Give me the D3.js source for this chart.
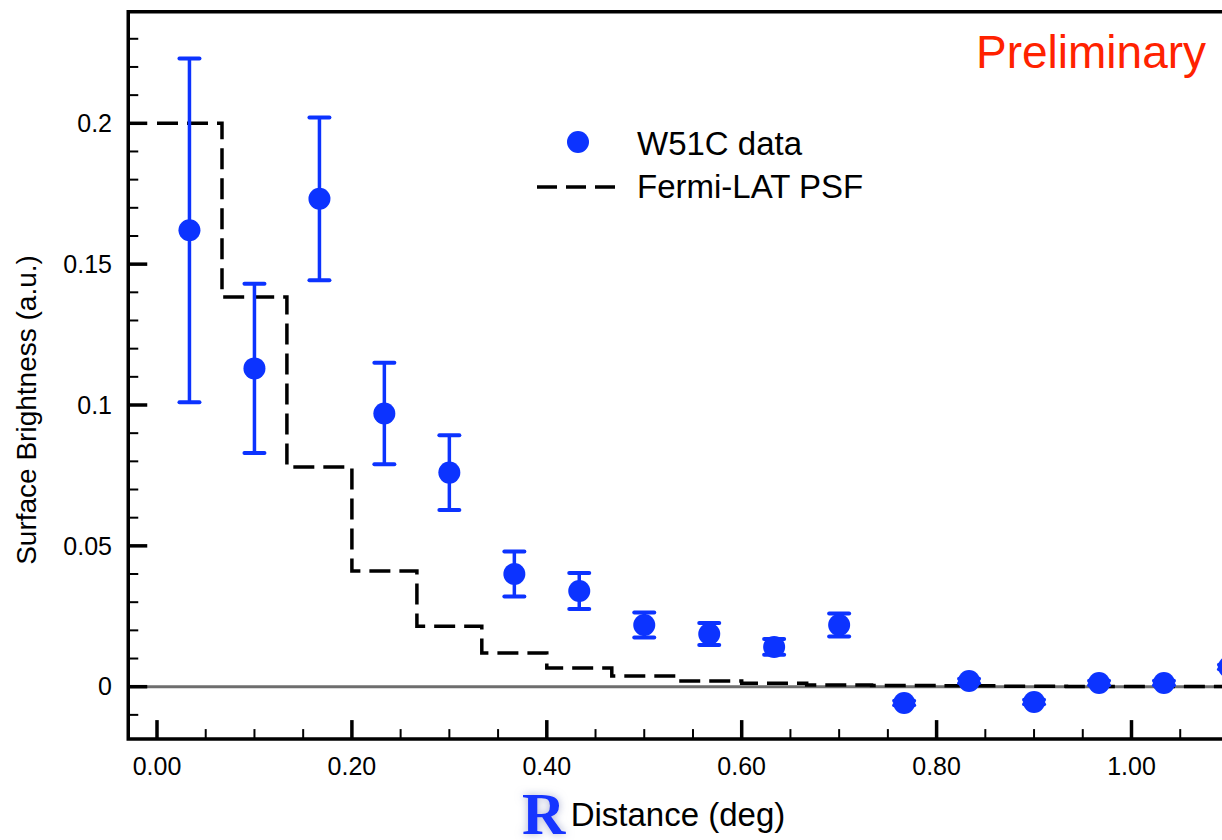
<!DOCTYPE html>
<html>
<head>
<meta charset="utf-8">
<script src="https://cdn.jsdelivr.net/npm/d3@7"></script>
<style>
  body { margin: 0; background: #fff; }
  svg { display: block; font-family: "Liberation Sans", Arial, Helvetica, sans-serif; }
</style>
</head>
<body>
<svg id="contenedor"></svg>
<script>
// centros de los bines radiales (deg)
let distancia = [0.0333, 0.1, 0.1667, 0.2333, 0.3, 0.3667, 0.4333, 0.5, 0.5667,
  0.6333, 0.7, 0.7667, 0.8333, 0.9, 0.9667, 1.0333, 1.1];
// brillo superficial W51C y su error
let brillo = [0.162, 0.113, 0.1732, 0.097, 0.076, 0.040, 0.034, 0.0219, 0.0187,
  0.0141, 0.0219, -0.0058, 0.0020, -0.0054, 0.0013, 0.0013, 0.0070];
let errorBrillo = [0.061, 0.030, 0.0289, 0.018, 0.0133, 0.008, 0.0064, 0.0044, 0.0039,
  0.0028, 0.0041, 0.0008, 0.0008, 0.0008, 0.0008, 0.0008, 0.0008];

// PSF de Fermi-LAT (histograma por bines)
let psfBordes = [0, 0.0667, 0.1333, 0.2, 0.2667, 0.3333, 0.4, 0.4667, 0.5333, 0.6,
  0.6667, 0.7333, 0.8, 0.8667, 0.9333, 1.0, 1.0667, 1.1333];
let psfValores = [0.2, 0.1383, 0.078, 0.0411, 0.0215, 0.012, 0.0066, 0.0038, 0.002,
  0.0012, 0.0006, 0.0004, 0.0003, 0.0002, 0.0001, 0.0001, 0.0001];

// ticks de los ejes
let ticksX = [0, 0.2, 0.4, 0.6, 0.8, 1.0];
let ticksXMenores = [0.05, 0.1, 0.15, 0.25, 0.3, 0.35, 0.45, 0.5, 0.55, 0.65, 0.7, 0.75,
  0.85, 0.9, 0.95, 1.05, 1.1];
let ticksY = [0, 0.05, 0.1, 0.15, 0.2];
let ticksYMenores = [-0.01, 0.01, 0.02, 0.03, 0.04, 0.06, 0.07, 0.08, 0.09, 0.11, 0.12,
  0.13, 0.14, 0.16, 0.17, 0.18, 0.19, 0.21, 0.22, 0.23];

let azul = "#0c33ff";

// configuracion del area
function getConfig() {
  let width = 1222;
  let height = 840;
  let container = d3.select("#contenedor").attr("width", width).attr("height", height);
  return { width, height, container };
}

// escalas (el borde derecho queda fuera de la imagen)
function getScales() {
  let xScale = d3.scaleLinear().domain([0, 1]).range([157, 1131.5]);
  let yScale = d3.scaleLinear().domain([0, 0.2]).range([686.7, 123.3]);
  return { xScale, yScale };
}

function dibujarMarco(scales, config) {
  let { xScale, yScale } = scales;
  let { container } = config;
  let x0 = xScale(-0.0295), x1 = xScale(1.14);
  let y0 = yScale(-0.0186), y1 = yScale(0.2396);

  // linea del cero
  container.append("line")
    .attr("x1", x0).attr("x2", x1)
    .attr("y1", yScale(0)).attr("y2", yScale(0))
    .attr("stroke", "#6e6e6e").attr("stroke-width", 3);

  // marco: izquierda, arriba, abajo
  container.append("path")
    .attr("d", `M${x1},${y1}H${x0}V${y0}H${x1}`)
    .attr("fill", "none").attr("stroke", "#000").attr("stroke-width", 3.5);

  // ticks eje y
  container.selectAll(".ty").data(ticksY).enter().append("line")
    .attr("x1", x0).attr("x2", x0 + 19)
    .attr("y1", d => yScale(d)).attr("y2", d => yScale(d))
    .attr("stroke", "#000").attr("stroke-width", 3.5);
  container.selectAll(".tym").data(ticksYMenores).enter().append("line")
    .attr("x1", x0).attr("x2", x0 + 10)
    .attr("y1", d => yScale(d)).attr("y2", d => yScale(d))
    .attr("stroke", "#000").attr("stroke-width", 2);
  container.selectAll(".ly").data(ticksY).enter().append("text")
    .attr("x", 112).attr("y", d => yScale(d)).attr("dy", "0.35em")
    .attr("text-anchor", "end").attr("font-size", "25px")
    .text(d => d === 0 ? "0" : String(d));

  // ticks eje x
  container.selectAll(".tx").data(ticksX).enter().append("line")
    .attr("x1", d => xScale(d)).attr("x2", d => xScale(d))
    .attr("y1", y0).attr("y2", y0 - 19)
    .attr("stroke", "#000").attr("stroke-width", 3.5);
  container.selectAll(".txm").data(ticksXMenores).enter().append("line")
    .attr("x1", d => xScale(d)).attr("x2", d => xScale(d))
    .attr("y1", y0).attr("y2", y0 - 10)
    .attr("stroke", "#000").attr("stroke-width", 2);
  container.selectAll(".lx").data(ticksX).enter().append("text")
    .attr("x", d => xScale(d)).attr("y", 775)
    .attr("text-anchor", "middle").attr("font-size", "25px")
    .text(d => d3.format(".2f")(d));

  // titulos
  container.append("text")
    .attr("transform", "translate(36,410) rotate(-90)")
    .attr("text-anchor", "middle").attr("font-size", "28px")
    .text("Surface Brightness (a.u.)");
  container.append("text")
    .attr("x", 678).attr("y", 826)
    .attr("text-anchor", "middle").attr("font-size", "33px")
    .text("Distance (deg)");

  // clip para los datos
  container.append("clipPath").attr("id", "clip")
    .append("rect").attr("x", x0).attr("y", y1).attr("width", x1 - x0).attr("height", y0 - y1);
}

function dibujarPSF(scales, config) {
  let { xScale, yScale } = scales;
  let puntos = psfBordes.map((b, i) => [b, i < psfValores.length ? psfValores[i] : psfValores[psfValores.length - 1]]);
  let linea = d3.line()
    .x(d => xScale(d[0])).y(d => yScale(d[1]))
    .curve(d3.curveStepAfter);
  config.container.append("path")
    .attr("clip-path", "url(#clip)")
    .attr("d", linea(puntos))
    .attr("fill", "none").attr("stroke", "#000")
    .attr("stroke-width", 3.5).attr("stroke-dasharray", "21,9");
}

function dibujarDatos(scales, config) {
  let { xScale, yScale } = scales;
  let datos = distancia.map((d, i) => ({ x: d, y: brillo[i], e: errorBrillo[i] }));
  let g = config.container.append("g").attr("clip-path", "url(#clip)");

  // barras de error
  g.selectAll(".err").data(datos).enter().append("line")
    .attr("x1", d => xScale(d.x)).attr("x2", d => xScale(d.x))
    .attr("y1", d => yScale(d.y - d.e)).attr("y2", d => yScale(d.y + d.e))
    .attr("stroke", azul).attr("stroke-width", 3.5);
  let caps = datos.flatMap(d => [{ x: d.x, y: d.y + d.e }, { x: d.x, y: d.y - d.e }]);
  g.selectAll(".cap").data(caps).enter().append("line")
    .attr("x1", d => xScale(d.x) - 10).attr("x2", d => xScale(d.x) + 10)
    .attr("y1", d => yScale(d.y)).attr("y2", d => yScale(d.y))
    .attr("stroke", azul).attr("stroke-width", 4).attr("stroke-linecap", "round");

  // puntos
  g.selectAll(".pt").data(datos).enter().append("circle")
    .attr("cx", d => xScale(d.x)).attr("cy", d => yScale(d.y))
    .attr("r", 11).attr("fill", azul);
}

function dibujarLeyenda(config) {
  let { container } = config;
  container.append("circle").attr("cx", 578).attr("cy", 142).attr("r", 11).attr("fill", azul);
  container.append("text").attr("x", 637).attr("y", 155).attr("font-size", "33px").text("W51C data");
  container.append("line").attr("x1", 537).attr("x2", 615).attr("y1", 187).attr("y2", 187)
    .attr("stroke", "#000").attr("stroke-width", 3.5).attr("stroke-dasharray", "20,9");
  container.append("text").attr("x", 637).attr("y", 198).attr("font-size", "33px").text("Fermi-LAT PSF");

  container.append("text").attr("x", 976).attr("y", 68)
    .attr("font-size", "46px").attr("fill", "#ff2200").text("Preliminary");

  // logo R con sombra
  let filtro = container.append("filter").attr("id", "sombra")
    .attr("x", "-50%").attr("y", "-50%").attr("width", "200%").attr("height", "200%");
  filtro.append("feDropShadow").attr("dx", 0).attr("dy", 0).attr("stdDeviation", 4)
    .attr("flood-color", "#8890c0").attr("flood-opacity", 0.7);
  container.append("text").attr("x", 522).attr("y", 834)
    .attr("font-family", "'Liberation Serif', 'Times New Roman', serif")
    .attr("font-weight", "bold").attr("font-size", "60px")
    .attr("fill", "#1236ff").attr("filter", "url(#sombra)").text("R");
}

function dibujarChart() {
  let config = getConfig();
  let scales = getScales();
  dibujarMarco(scales, config);
  dibujarPSF(scales, config);
  dibujarDatos(scales, config);
  dibujarLeyenda(config);
}

dibujarChart();
</script>
</body>
</html>
